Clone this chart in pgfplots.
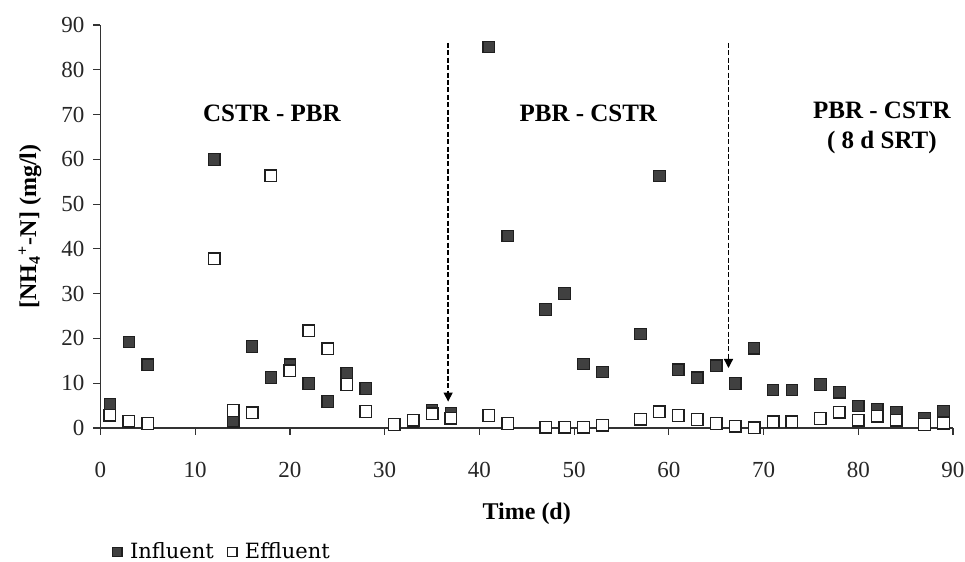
\documentclass[border=0pt]{standalone}
\usepackage{fontspec}
\setmainfont{Liberation Serif}
\newfontfamily\legfont{DejaVu Serif}
\usepackage{pgfplots}
\pgfplotsset{compat=1.18}
\usetikzlibrary{arrows.meta}
\pgfplotsset{smallmark legend/.style={legend image code/.code={\draw[##1, mark size=2.3pt] plot coordinates {(0.1cm,0cm)};}}}
\begin{document}
\begin{tikzpicture}
\path[use as bounding box] (0,0) rectangle (482.5pt,281pt);
\begin{axis}[
  at={(50.25pt,67pt)}, anchor=south west,
  scale only axis, width=426.25pt, height=201.5pt,
  xmin=0, xmax=90, ymin=0, ymax=90,
  axis x line=bottom, axis y line=left,
  axis line style={-, line width=0.6pt, draw=black!80},
  xtick={0,10,...,90}, ytick={0,10,...,90},
  tick align=outside, major tick length=3.5pt,
  tick style={line width=0.6pt, draw=black!80},
  clip=false,
  /pgf/number format/assume math mode=true,
  ticklabel style={font=\fontsize{11.5}{12}\selectfont, text=black!85},
  xticklabel style={yshift=-10pt},
  yticklabel style={xshift=-1pt},
  xlabel={Time (d)},
  ylabel={[NH\textsubscript{4}\textsuperscript{+}-N] (mg/l)},
  xlabel style={font=\fontsize{12}{14}\selectfont\bfseries, at={(axis description cs:0.5,-0.2134)}, anchor=center},
  ylabel style={font=\fontsize{12}{14}\selectfont\bfseries, at={(axis description cs:-0.0827,0.5)}, anchor=center},
  legend style={at={(axis description cs:0.014,-0.3077)}, anchor=west,
    legend columns=2, draw=none, fill=none, inner sep=0pt,
    font=\legfont\fontsize{10.5}{12}\selectfont,
    /tikz/every odd column/.append style={column sep=2pt},
    /tikz/every even column/.append style={column sep=5pt}},
  legend cell align=left,
]
\addplot[only marks, mark=square*, mark size=2.9pt,
  mark options={fill=black!75, draw=black!88, line width=0.6pt},
  smallmark legend]
coordinates {
(1,5.3) (3,19.2) (5,14.1) (12,60) (14,1.5) (16,18.2) (18,11.3) (20,14.1)
(22,9.9) (24,5.9) (26,12.3) (28,8.8) (31,0.8) (33,1.5) (35,3.9) (37,3.3)
(41,85.1) (43,42.9) (47,26.5) (49,30) (51,14.3) (53,12.5) (57,21) (59,56.3)
(61,13) (63,11.2) (65,13.9) (67,9.9) (69,17.8) (71,8.5) (73,8.5) (76,9.7)
(78,8) (80,4.9) (82,4.2) (84,3.5) (87,2.2) (89,3.8)
};
\addlegendentry{Influent}
\addplot[only marks, mark=square*, mark size=2.9pt,
  mark options={fill=white, draw=black!88, line width=0.7pt},
  smallmark legend]
coordinates {
(1,2.9) (3,1.5) (5,1.0) (12,37.8) (14,3.9) (16,3.4) (18,56.3) (20,12.8)
(22,21.7) (24,17.7) (26,9.7) (28,3.7) (31,0.8) (33,1.7) (35,3.2) (37,2.2)
(41,2.8) (43,1.0) (47,0.2) (49,0.2) (51,0.2) (53,0.6) (57,2.0) (59,3.6)
(61,2.8) (63,1.9) (65,1.0) (67,0.4) (69,0) (71,1.4) (73,1.4) (76,2.1)
(78,3.5) (80,1.7) (82,2.6) (84,1.7) (87,0.8) (89,1.1)
};
\addlegendentry{Effluent}
\draw[line width=0.7pt, dash pattern=on 2.5pt off 1.2pt, -{Triangle[width=4.5pt,length=4.5pt]}]
  (axis cs:36.7,86) -- (axis cs:36.7,5.9);
\draw[line width=0.7pt, dash pattern=on 2.5pt off 1.2pt, -{Triangle[width=4.5pt,length=4.5pt]}]
  (axis cs:66.3,86) -- (axis cs:66.3,13.4);
\node[font=\fontsize{12.5}{15}\selectfont\bfseries] at (axis cs:18.1,70.3) {CSTR - PBR};
\node[font=\fontsize{12.5}{15}\selectfont\bfseries] at (axis cs:51.5,70.3) {PBR - CSTR};
\node[font=\fontsize{12.5}{15}\selectfont\bfseries, align=center] at (axis cs:82.5,67) {PBR - CSTR\\( 8 d SRT)};
\end{axis}
\end{tikzpicture}
\end{document}
